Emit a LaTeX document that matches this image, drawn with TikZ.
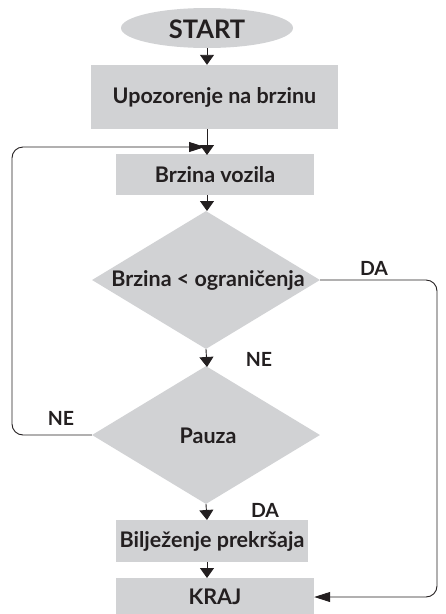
\documentclass[tikz,border=0pt]{standalone}
\usepackage{fontspec}
\setmainfont{Lato}
\usetikzlibrary{shapes.geometric,arrows.meta}
\definecolor{boxgray}{HTML}{D1D2D4}
\definecolor{ink}{HTML}{231F20}
\tikzset{
  every node/.style={font=\bfseries\fontsize{21.5}{23}\selectfont, text=ink},
  stepbox/.style={rectangle, fill=boxgray, inner sep=0pt},
  startshape/.style={ellipse, fill=boxgray, inner sep=0pt, minimum width=172pt, minimum height=40pt},
  dia/.style={diamond, fill=boxgray, inner sep=0pt, minimum width=228pt, minimum height=138pt},
  lab/.style={font=\bfseries\fontsize{19.5}{21}\selectfont},
  flow/.style={draw=ink, line width=0.9pt, -{Triangle[width=14pt,length=10pt]}},
  loopline/.style={draw=ink, line width=0.9pt, rounded corners=11pt, -{Triangle[width=10pt,length=16pt]}},
}
\begin{document}
\begin{tikzpicture}[x=1pt,y=-1pt]
\useasboundingbox (0,0) rectangle (446,614);
\node[startshape] (start) at (207,28) {};
\node[font=\bfseries\fontsize{25.5}{27}\selectfont] (starttxt) at (207,29) {START};
\node[stepbox, minimum width=247pt, minimum height=64pt] (upoz) at (214.5,97) {Upozorenje na brzinu};
\node[stepbox, minimum width=198pt, minimum height=41pt] (brz) at (215,174.5) {Brzina vozila};
\node[dia] (d1) at (206,280) {};
\node (d1txt) at (208,280) {Brzina < ograničenja};
\node[dia] (d2) at (206,435) {};
\node (d2txt) at (208,436) {Pauza};
\node[stepbox, minimum width=192pt, minimum height=42pt] (bilj) at (212,541) {Bilježenje prekršaja};
\node[stepbox, minimum width=198pt, minimum height=38pt] (kraj) at (215,597) {KRAJ};

\node[lab] (da1) at (374,268) {DA};
\node[lab] (ne1) at (259,359) {NE};
\node[lab] (ne2) at (61,418) {NE};
\node[lab] (da2) at (265,510) {DA};

\coordinate (c1) at (207,48);
\coordinate (c2) at (207,129);
\coordinate (c3) at (207,195);
\coordinate (c5) at (207,562);
\coordinate (loopend) at (205,147);
\coordinate (upozbot) at (207,155);
\coordinate (d1top) at (207,211);
\coordinate (d2top) at (207,367);
\coordinate (biljtop) at (207,520);
\coordinate (krajtop) at (207,578);

\draw[flow] (c1) -- (upoz.north -| c1);
\draw[flow] (c2) -- (upozbot);
\draw[flow] (c3) -- (d1top);
\draw[flow] (d1.south) -- (d2top);
\draw[flow] (d2.south) -- (biljtop);
\draw[flow] (c5) -- (krajtop);

\draw[loopline] (d2.west) -- (12,435) -- (12,147) -- (loopend);
\draw[loopline] (d1.east) -- (437,280) -- (437,597) -- (kraj.east);
\end{tikzpicture}
\end{document}
